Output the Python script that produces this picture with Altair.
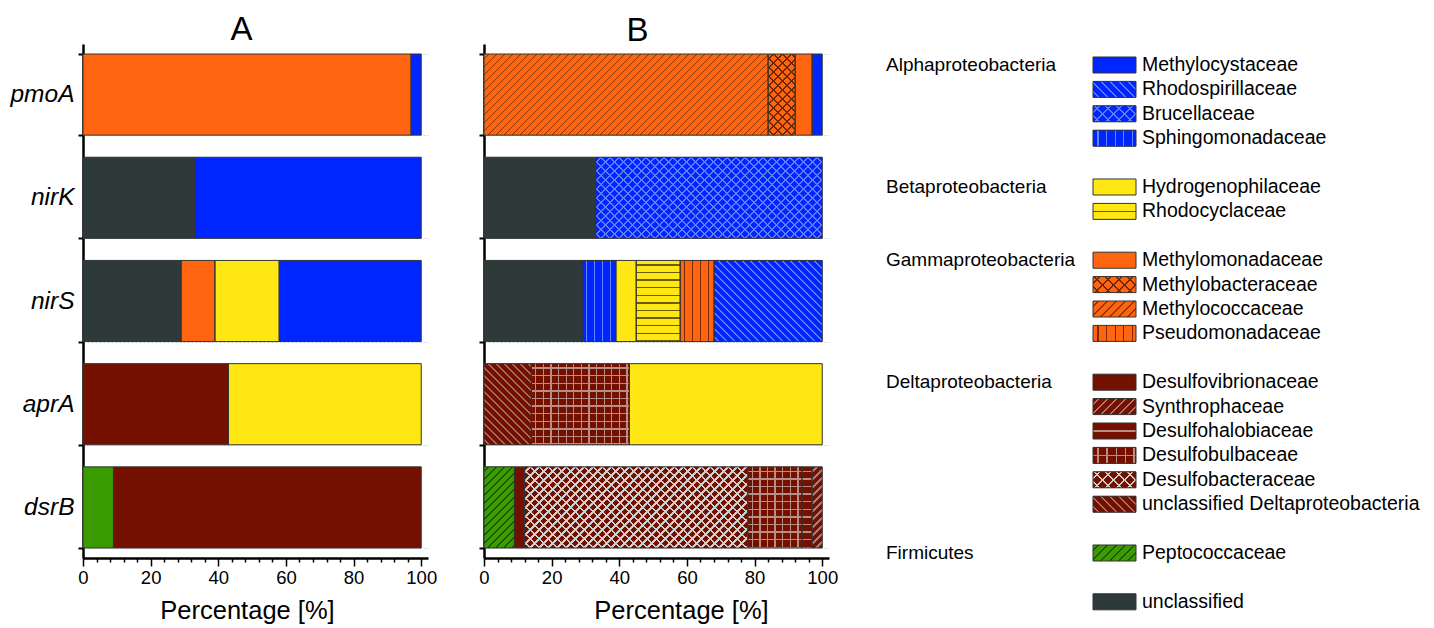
import altair as alt
import pandas as pd

FONT = "Liberation Sans"

# ---------------- data ----------------
GENES = ["pmoA", "nirK", "nirS", "aprA", "dsrB"]

A_GENE = ["pmoA", "pmoA", "nirK", "nirK", "nirS", "nirS", "nirS", "nirS",
          "aprA", "aprA", "dsrB", "dsrB"]
A_GROUP = ["Gammaproteobacteria", "Alphaproteobacteria",
           "unclassified", "Alphaproteobacteria",
           "unclassified", "Gammaproteobacteria", "Betaproteobacteria", "Alphaproteobacteria",
           "Deltaproteobacteria", "Betaproteobacteria",
           "Firmicutes", "Deltaproteobacteria"]
A_VALUE = [97, 3, 33, 67, 29, 10, 19, 42, 43, 57, 9, 91]

B_GENE = ["pmoA"] * 4 + ["nirK"] * 2 + ["nirS"] * 6 + ["aprA"] * 3 + ["dsrB"] * 6
B_FAMILY = ["Methylococcaceae", "Methylobacteraceae", "Methylomonadaceae", "Methylocystaceae",
            "unclassified", "Brucellaceae",
            "unclassified", "Sphingomonadaceae", "Hydrogenophilaceae", "Rhodocyclaceae",
            "Pseudomonadaceae", "Rhodospirillaceae",
            "unclassified Deltaproteobacteria", "Desulfobulbaceae", "Hydrogenophilaceae",
            "Peptococcaceae", "Desulfovibrionaceae", "Desulfobacteraceae", "Desulfobulbaceae",
            "Desulfohalobiaceae", "Synthrophaceae"]
B_VALUE = [84, 8, 5, 3,
           33, 67,
           29, 10, 6, 13, 10, 32,
           14, 29, 57,
           9, 3, 66, 16, 3, 3]

LEGEND_GROUPS = ["Alphaproteobacteria", "Betaproteobacteria", "Gammaproteobacteria",
                 "Deltaproteobacteria", "Firmicutes", ""]
LEGEND_FAMILIES = [
    ["Methylocystaceae", "Rhodospirillaceae", "Brucellaceae", "Sphingomonadaceae"],
    ["Hydrogenophilaceae", "Rhodocyclaceae"],
    ["Methylomonadaceae", "Methylobacteraceae", "Methylococcaceae", "Pseudomonadaceae"],
    ["Desulfovibrionaceae", "Synthrophaceae", "Desulfohalobiaceae", "Desulfobulbaceae",
     "Desulfobacteraceae", "unclassified Deltaproteobacteria"],
    ["Peptococcaceae"],
    ["unclassified"],
]

# ---------------- styles ----------------
BLUE, YELLOW, ORANGE = "#0026ff", "#ffe714", "#ff6510"
DRED, GREEN, UNCL = "#731000", "#3a9c00", "#2e3939"
GROUP_COLOR = {
    "Alphaproteobacteria": BLUE, "Betaproteobacteria": YELLOW,
    "Gammaproteobacteria": ORANGE, "Deltaproteobacteria": DRED,
    "Firmicutes": GREEN, "unclassified": UNCL,
}
FAMILY_COLOR = {}
for g, fams in zip(LEGEND_GROUPS, LEGEND_FAMILIES):
    for f in fams:
        FAMILY_COLOR[f] = GROUP_COLOR[g] if g else UNCL

PATTERN = {
    "Rhodospirillaceae": ("back", "#5f7cff", 1.5),
    "Brucellaceae": ("cross", "#5f7cff", 1.4),
    "Sphingomonadaceae": ("vert", "#6a86ff", 1.3),
    "Rhodocyclaceae": ("horiz", "#6b5e00", 1.4),
    "Methylobacteraceae": ("cross", "#6e2800", 1.4),
    "Methylococcaceae": ("fwd", "#8c3600", 1.4),
    "Pseudomonadaceae": ("vert", "#7a2c00", 1.3),
    "Synthrophaceae": ("fwd", "#b07870", 1.5),
    "Desulfohalobiaceae": ("horiz", "#b98c86", 1.3),
    "Desulfobulbaceae": ("grid", "#b98c86", 1.3),
    "Desulfobacteraceae": ("cross", "#cfcfcf", 1.6),
    "unclassified Deltaproteobacteria": ("back", "#a8726a", 1.5),
    "Peptococcaceae": ("fwd", "#1f5500", 1.5),
}
BAR_PERIOD = {"fwd": 8, "back": 8, "cross": 9, "vert": 8, "horiz": 7.6, "grid": 7.6}
LEG_PERIOD = {"fwd": 9, "back": 9, "cross": 11, "vert": 8.6, "horiz": 16, "grid": 9}

# ---------------- layout ----------------
PLOT_W, PLOT_H, XMAX = 345, 514, 102
PPU = PLOT_W / XMAX
PI, PO = 0.214, 0.097
STEP = PLOT_H / (len(GENES) - PI + 2 * PO)
BW = STEP * (1 - PI)

LEG_W, LEG_H, ROW, TOP0 = 530, 560, 24.4, 21
SW_HALF = 0.328


def stops_from(length, period, lw, base, line, phase):
    stops = [{"offset": 0.0, "color": base}]
    c = phase
    while c < length:
        a = round(max(c, 0) / length, 5)
        b = round(min(c + lw, length) / length, 5)
        stops += [{"offset": a, "color": base}, {"offset": a, "color": line},
                  {"offset": b, "color": line}, {"offset": b, "color": base}]
        c += period
    stops.append({"offset": 1.0, "color": base})
    return stops


def grad(kind, w, h, period, lw, base, line, phase=None):
    if phase is None:
        phase = period / 2
    r = h / w
    k = (1 + r) / (1 + r * r)
    if kind == "vert":
        L, co = w, (0, 0, 1, 0)
    elif kind == "horiz":
        L, co = h, (0, 0, 0, 1)
    elif kind == "fwd":
        L, co = w + h, (0, 0, k, k * r)
        lw = lw * 1.414
    else:  # back
        L, co = w + h, (0, 1, k, 1 - k * r)
        lw = lw * 1.414
    return {"gradient": "linear", "x1": round(co[0], 5), "y1": round(co[1], 5),
            "x2": round(co[2], 5), "y2": round(co[3], 5),
            "stops": stops_from(L, period, lw, base, line, phase)}


def pattern_fills(family, w, h, periods, legend=False):
    kind, line, lw = PATTERN[family]
    base = FAMILY_COLOR[family]
    p = periods[kind]
    if kind == "cross":
        return [grad("fwd", w, h, p, lw, base, line), grad("back", w, h, p, lw, "transparent", line)]
    if kind == "grid":
        hp = 16 if legend else p
        return [grad("vert", w, h, p, lw, base, line),
                grad("horiz", w, h, hp, lw, "transparent", line, phase=(7.5 if legend else None))]
    if kind == "horiz" and legend:
        return [grad("horiz", w, h, p, lw, base, line, phase=7.4)]
    return [grad(kind, w, h, p, lw, base, line)]


def stacked(genes, cats, vals, catname):
    df = pd.DataFrame({"gene": genes, catname: cats, "value": vals})
    df["end"] = df.groupby("gene")["value"].cumsum()
    df["start"] = df["end"] - df["value"]
    df["key"] = df["gene"] + "|" + df[catname]
    return df


def y_axis(labels):
    return alt.Axis(tickBand="extent", grid=True, gridDash=[2, 2], gridColor="#c9d6d6", gridWidth=1,
                    domainColor="black", domainWidth=2.5, tickColor="black", tickWidth=2, tickSize=5,
                    labels=labels, labelFont=FONT, labelFontStyle="italic", labelFontSize=24.5,
                    labelColor="black", labelPadding=4, minExtent=74, maxExtent=74)


def x_axis(title_x):
    return alt.Axis(values=list(range(0, 101, 4)),
                    labelExpr="datum.value % 20 === 0 ? datum.label : ''",
                    labelOverlap=False, labelFlush=False, labelFont=FONT, labelFontSize=18.5,
                    labelColor="black", labelPadding=2,
                    tickColor="black", tickWidth=1.5,
                    tickSize={"condition": {"test": "datum.value % 20 === 0", "value": 8}, "value": 4},
                    domainColor="black", domainWidth=2.5, grid=False,
                    titleFont=FONT, titleFontSize=25.5, titleFontWeight="normal", titleColor="black",
                    titlePadding=12, titleX=title_x, titleAlign="center")


def panel(df, catname, color_map, title_text, title_dx, title_dy, labels, title_x, patterned):
    y = alt.Y("gene:N", sort=GENES, scale=alt.Scale(paddingInner=PI, paddingOuter=PO),
              axis=y_axis(labels), title=None)
    x = alt.X("start:Q", scale=alt.Scale(domain=[0, XMAX], nice=False, zero=True),
              axis=x_axis(title_x), title="Percentage [%]")
    x2 = alt.X2("end:Q")
    dom = list(color_map.keys())
    base = alt.Chart().mark_bar(strokeWidth=0).encode(
        x=x, x2=x2, y=y,
        fill=alt.Fill(catname + ":N", scale=alt.Scale(domain=dom, range=[color_map[d] for d in dom]),
                      legend=None))
    layers = [base]
    if patterned:
        for _, row in df.iterrows():
            fam = row[catname]
            if fam not in PATTERN:
                continue
            w = row["value"] * PPU
            for g in pattern_fills(fam, w, BW, BAR_PERIOD):
                layers.append(alt.Chart().mark_bar(fill=g, strokeWidth=0)
                              .encode(x=x, x2=x2, y=y)
                              .transform_filter(alt.datum.key == row["key"]))
    outline = alt.Chart().mark_bar(fillOpacity=0, stroke="#333333", strokeWidth=1).encode(x=x, x2=x2, y=y)
    layers.append(outline)
    return alt.layer(*layers, data=df).properties(
        width=PLOT_W, height=PLOT_H,
        title=alt.Title(title_text, fontSize=33, font=FONT, fontWeight="normal", color="black",
                        frame="group", anchor="middle", dx=title_dx, dy=title_dy, offset=-4))


df_a = stacked(A_GENE, A_GROUP, A_VALUE, "group")
df_b = stacked(B_GENE, B_FAMILY, B_VALUE, "family")

panel_a = panel(df_a, "group", GROUP_COLOR, "A", -14, 12, True, 164, False)
panel_b = panel(df_b, "family", FAMILY_COLOR, "B", -19, 0, False, 197, True)

# ---------------- legend ----------------
leg_rows, grp_rows = [], []
r = 0
for g, fams in zip(LEGEND_GROUPS, LEGEND_FAMILIES):
    if g:
        grp_rows.append({"group": g, "row": r})
    for f in fams:
        leg_rows.append({"family": f, "row": r, "ylo": r - SW_HALF, "yhi": r + SW_HALF})
        r += 1
    r += 1
df_leg = pd.DataFrame(leg_rows)
df_grp = pd.DataFrame(grp_rows)

d0 = -TOP0 / ROW
d1 = d0 + LEG_H / ROW
yscale = alt.Scale(domain=[d0, d1], reverse=True, nice=False, zero=False)
SW_X0, SW_X1, LAB_X, GRP_X = 208, 251, 257, 1
SW_H = 2 * SW_HALF * ROW

ylo = alt.Y("ylo:Q", scale=yscale, axis=None)
yhi = alt.Y2("yhi:Q")
fam_dom = list(FAMILY_COLOR.keys())
leg_layers = [alt.Chart(df_leg).mark_rect(strokeWidth=0).encode(
    x=alt.value(SW_X0), x2=alt.value(SW_X1), y=ylo, y2=yhi,
    fill=alt.Fill("family:N", scale=alt.Scale(domain=fam_dom, range=[FAMILY_COLOR[f] for f in fam_dom]),
                  legend=None))]
for f in fam_dom:
    if f in PATTERN:
        for g in pattern_fills(f, SW_X1 - SW_X0, SW_H, LEG_PERIOD, legend=True):
            leg_layers.append(alt.Chart(df_leg).mark_rect(fill=g, strokeWidth=0).encode(
                x=alt.value(SW_X0), x2=alt.value(SW_X1), y=ylo, y2=yhi)
                .transform_filter(alt.datum.family == f))
leg_layers.append(alt.Chart(df_leg).mark_rect(fillOpacity=0, stroke="#333333", strokeWidth=1).encode(
    x=alt.value(SW_X0), x2=alt.value(SW_X1), y=ylo, y2=yhi))
leg_layers.append(alt.Chart(df_leg).mark_text(align="left", baseline="middle", font=FONT, fontSize=19.5,
                                              color="black").encode(
    x=alt.value(LAB_X), y=alt.Y("row:Q", scale=yscale, axis=None), text="family:N"))
leg_layers.append(alt.Chart(df_grp).mark_text(align="left", baseline="middle", font=FONT, fontSize=19,
                                              color="black").encode(
    x=alt.value(GRP_X), y=alt.Y("row:Q", scale=yscale, axis=None), text="group:N"))
legend = alt.layer(*leg_layers).properties(width=LEG_W, height=LEG_H)

chart = alt.hconcat(panel_a, panel_b, legend, spacing=56, bounds="flush").resolve_scale(
    x="independent", y="independent", fill="independent"
).properties(
    padding={"left": 0, "top": 5, "right": 5, "bottom": 5}
).configure_view(stroke="transparent")

chart.save("out.html", embed_options={"renderer": "svg", "actions": False})
